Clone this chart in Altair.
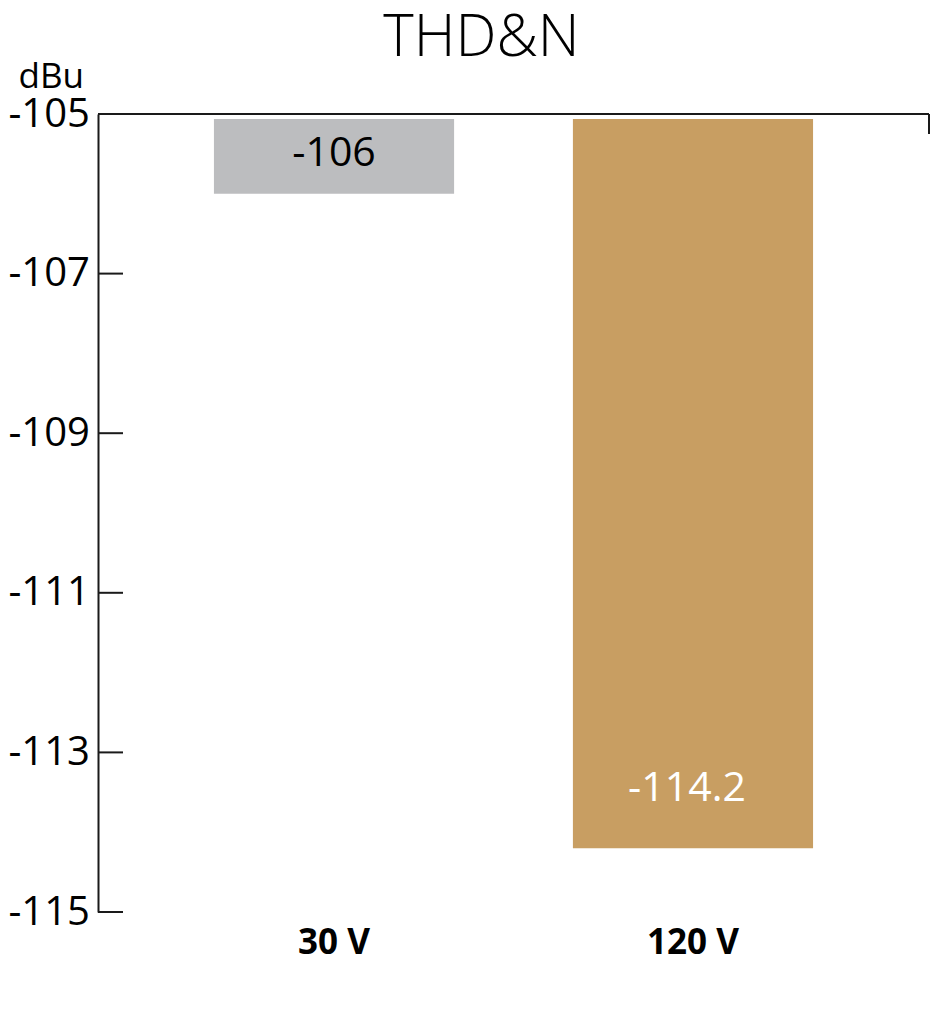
import altair as alt
import pandas as pd

categories = ["30 V", "120 V"]
values = [-106.0, -114.2]
labels = ["-106", "-114.2"]
bar_colors = ["#bcbdbf", "#c89e62"]
label_colors = ["#000000", "#ffffff"]
tick_values = [-105, -107, -109, -111, -113, -115]
y_top = -105
y_bottom = -115

FONT = "Open Sans"
W, H = 831, 798

df = pd.DataFrame({"cat": categories, "value": values, "label": labels, "top": [y_top] * len(categories)})
ticks_df = pd.DataFrame({"t": tick_values})
top_df = pd.DataFrame({"t": [y_top]})

yscale = alt.Scale(domain=[y_bottom, y_top], nice=False, zero=False)
xscale = alt.Scale(domain=categories, paddingInner=0.331, paddingOuter=0.323, align=0.5)

bars = alt.Chart(df).mark_bar(y2Offset=5).encode(
    x=alt.X("cat:N", sort=categories, scale=xscale,
            axis=alt.Axis(title=None, labelAngle=0, domain=False, ticks=False,
                          labelFont=FONT, labelFontSize=35, labelFontWeight="bold",
                          labelColor="#000000", labelPadding=13)),
    y=alt.Y("value:Q", scale=yscale,
            axis=alt.Axis(values=tick_values, ticks=False, tickSize=0, grid=False,
                          labelExpr="toString(datum.value)",
                          domainColor="#1a1a1a", domainWidth=2,
                          labelAlign="left", labelBaseline="middle", labelPadding=90,
                          labelFont=FONT, labelFontSize=40, labelColor="#000000",
                          title="dBu", titleAngle=0, titleAlign="left",
                          titleBaseline="alphabetic", titleX=-80, titleY=-27,
                          titleFont=FONT, titleFontSize=35, titleFontWeight="normal",
                          titleColor="#000000")),
    y2="top:Q",
    color=alt.Color("cat:N", scale=alt.Scale(domain=categories, range=bar_colors), legend=None),
)

tick_rules = alt.Chart(ticks_df).mark_rule(color="#1a1a1a", strokeWidth=2).encode(
    y=alt.Y("t:Q", scale=yscale),
    x=alt.value(0),
    x2=alt.value(25),
)

top_rule = alt.Chart(top_df).mark_rule(color="#1a1a1a", strokeWidth=2).encode(
    y=alt.Y("t:Q", scale=yscale),
    x=alt.value(0),
    x2=alt.value(W),
)

right_tick = alt.Chart(top_df).mark_rule(color="#1a1a1a", strokeWidth=2).encode(
    x=alt.value(W),
    y=alt.value(0),
    y2=alt.value(20),
)

text1 = alt.Chart(df).transform_filter(alt.datum.cat == categories[0]).mark_text(
    font=FONT, fontSize=41, baseline="middle", align="center", dy=-40, color=label_colors[0]
).encode(
    x=alt.X("cat:N", sort=categories, scale=xscale),
    y=alt.Y("value:Q", scale=yscale),
    text="label:N",
)

text2 = alt.Chart(df).transform_filter(alt.datum.cat == categories[1]).mark_text(
    font=FONT, fontSize=41, baseline="middle", align="center", dy=-59, dx=-6, color=label_colors[1]
).encode(
    x=alt.X("cat:N", sort=categories, scale=xscale),
    y=alt.Y("value:Q", scale=yscale),
    text="label:N",
)

chart = alt.layer(bars, tick_rules, top_rule, right_tick, text1, text2).properties(
    width=W,
    height=H,
    padding={"left": 0, "top": 2, "right": 0, "bottom": 5},
    title=alt.TitleParams("THD&N", font=FONT, fontSize=58, fontWeight=300,
                          color="#000000", anchor="middle", dx=-32, offset=-9),
    background="#ffffff",
).configure_view(stroke=None)

chart.save("out.html", embed_options={"renderer": "svg", "actions": False})
